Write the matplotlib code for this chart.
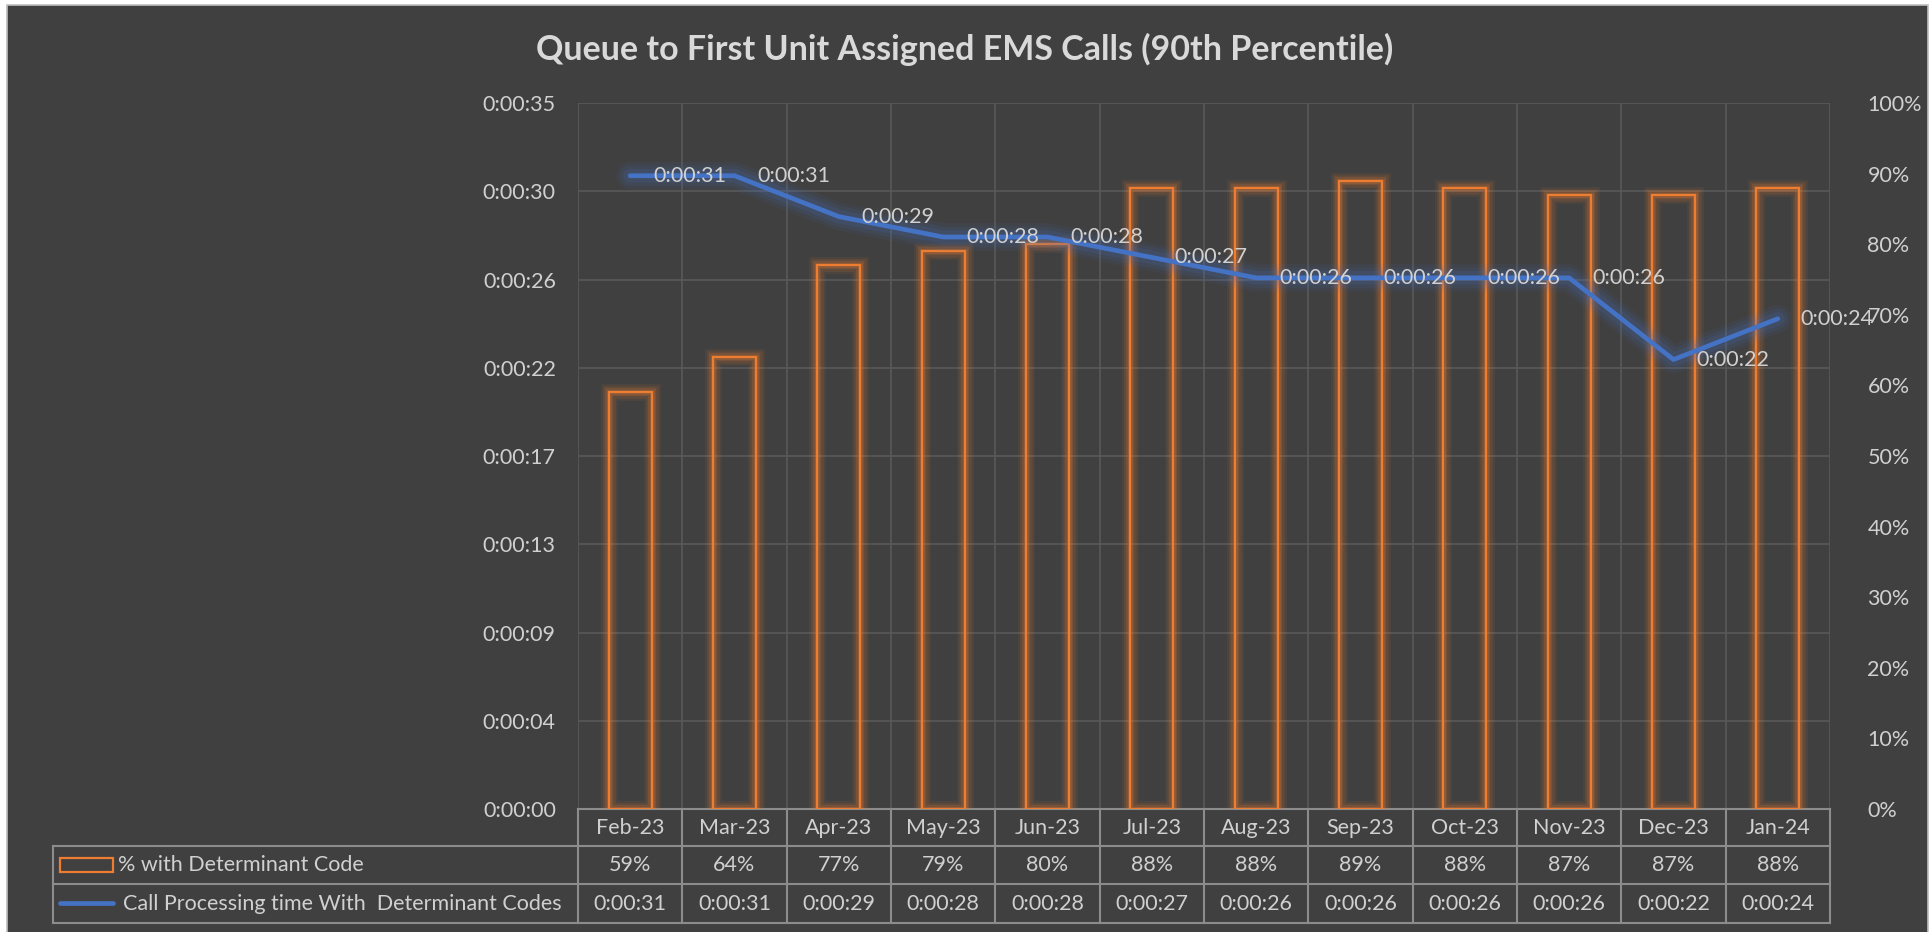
import matplotlib
matplotlib.use('Agg')
import matplotlib.pyplot as plt
import matplotlib.patheffects as pe
import matplotlib.transforms as mtransforms
from matplotlib.patches import Rectangle
from matplotlib.lines import Line2D
import numpy as np

# ---------------- data ----------------
months = ['Feb-23', 'Mar-23', 'Apr-23', 'May-23', 'Jun-23', 'Jul-23',
          'Aug-23', 'Sep-23', 'Oct-23', 'Nov-23', 'Dec-23', 'Jan-24']
pct_with_code = [59, 64, 77, 79, 80, 88, 88, 89, 88, 87, 87, 88]
processing_seconds = [31, 31, 29, 28, 28, 27, 26, 26, 26, 26, 22, 24]
series_names = ['% with Determinant Code',
                'Call Processing time With  Determinant Codes']
title_text = 'Queue to First Unit Assigned EMS Calls (90th Percentile)'
time_axis_max = 34.56          # seconds (0.0004 day)
time_axis_step = 4.32          # seconds
pct_ticks = list(range(0, 101, 10))

# ---------------- style ----------------
FONT = 'Lato'
BG = '#404040'
TXT = '#D0D0D0'
GRID = '#595959'
TBL = '#8C8C8C'
ORANGE = '#ED7D31'
BLUE = '#4472C4'
FS = 15.5

W, H = 1930, 932
fig = plt.figure(figsize=(W / 100, H / 100), dpi=100, facecolor='white')
fig.patches.append(Rectangle((7 / W, -0.01), (1928 - 7) / W, (H - 5) / H + 0.01,
                             transform=fig.transFigure, facecolor=BG,
                             edgecolor='#BFBFBF', lw=1.2, zorder=0))

L, R, T, B = 578, 1830, 103, 809
rect = [L / W, 1 - B / H, (R - L) / W, (B - T) / H]

def fmt_time(s):
    s = int(round(s))
    return '0:{:02d}:{:02d}'.format(s // 60, s % 60)

x = np.arange(len(months))

# base axes: time axis + grid
ax = fig.add_axes(rect)
ax.set_facecolor('none')
ax.set_xlim(-0.5, len(months) - 0.5)
ax.set_ylim(0, time_axis_max)
yt = np.arange(0, 9) * time_axis_step
ax.set_yticks(yt)
ax.set_yticklabels([fmt_time(v) for v in yt], fontfamily=FONT, fontsize=FS, color=TXT)
ax.set_xticks([])
ax.set_xticks(np.arange(-0.5, len(months), 1), minor=True)
ax.tick_params(axis='y', length=0, pad=16)
ax.tick_params(axis='x', which='both', length=0, labelbottom=False)
ax.grid(True, axis='y', which='major', color=GRID, lw=1.2)
ax.grid(True, axis='x', which='minor', color=GRID, lw=1.2)
for sp in ax.spines.values():
    sp.set_visible(False)
ax.set_zorder(1)

# bars on percent axis
ax2 = ax.twinx()
ax2.set_ylim(0, 100)
ax2.set_yticks(pct_ticks)
ax2.set_yticklabels([f'{v}%' for v in pct_ticks], fontfamily=FONT, fontsize=FS, color=TXT)
ax2.tick_params(axis='y', length=0, pad=27)
for sp in ax2.spines.values():
    sp.set_visible(False)
ax2.set_zorder(2)
ax2.patch.set_visible(False)
bar_glow = [pe.Stroke(linewidth=12, foreground=ORANGE, alpha=0.08),
            pe.Stroke(linewidth=9, foreground=ORANGE, alpha=0.12),
            pe.Stroke(linewidth=6, foreground=ORANGE, alpha=0.16),
            pe.Stroke(linewidth=3.5, foreground=ORANGE, alpha=0.2),
            pe.Normal()]
ax2.bar(x, pct_with_code, width=0.41, facecolor='none', edgecolor=ORANGE,
        linewidth=1.6, path_effects=bar_glow)

# line on its own time axis (drawn above bars)
ax3 = ax.twinx()
ax3.set_ylim(0, time_axis_max)
ax3.set_yticks([])
for sp in ax3.spines.values():
    sp.set_visible(False)
ax3.set_zorder(3)
ax3.patch.set_visible(False)
line_glow = [pe.Stroke(linewidth=20, foreground=BLUE, alpha=0.07),
             pe.Stroke(linewidth=15, foreground=BLUE, alpha=0.10),
             pe.Stroke(linewidth=10, foreground=BLUE, alpha=0.14),
             pe.Normal()]
ax3.plot(x, processing_seconds, color=BLUE, lw=3.4, solid_joinstyle='round',
         solid_capstyle='round', path_effects=line_glow)
for xi, yi in zip(x, processing_seconds):
    ax3.annotate(fmt_time(yi), (xi, yi), xytext=(23, 0), textcoords='offset pixels',
                 ha='left', va='center', fontfamily=FONT, fontsize=FS, color=TXT)

# title
fig.text(0.5, 1 - 49 / H, title_text, ha='center', va='center', fontfamily=FONT,
         fontsize=24.5, fontweight='bold', color='#D9D9D9')

# ---------------- data table ----------------
axh = B - T
def ya(py):  # pixel row -> axes fraction
    return (B - py) / axh

tr_cat = mtransforms.blended_transform_factory(ax.transData, ax.transAxes)
tr_fig = mtransforms.blended_transform_factory(fig.transFigure, ax.transAxes)
row_y = [809, 846, 884, 923]
TL = 53
n = len(months)
lw_t = 1.5

# horizontal lines
ax.add_line(Line2D([-0.5, n - 0.5], [ya(row_y[0])] * 2, transform=tr_cat,
                   color=TBL, lw=lw_t, clip_on=False))
for ry in row_y[1:]:
    fig.add_artist(Line2D([TL / W, R / W], [ya(ry)] * 2, transform=tr_fig,
                          color=TBL, lw=lw_t, clip_on=False))
# vertical lines
fig.add_artist(Line2D([TL / W] * 2, [ya(row_y[1]), ya(row_y[3])], transform=tr_fig,
                      color=TBL, lw=lw_t, clip_on=False))
for k in range(n + 1):
    ax.add_line(Line2D([k - 0.5] * 2, [ya(row_y[0]), ya(row_y[3])], transform=tr_cat,
                       color=TBL, lw=lw_t, clip_on=False))

# cell texts
mid = [(row_y[i] + row_y[i + 1]) / 2 for i in range(3)]
for xi, m, p, s in zip(x, months, pct_with_code, processing_seconds):
    ax.text(xi, ya(mid[0]), m, transform=tr_cat, ha='center', va='center',
            fontfamily=FONT, fontsize=FS, color=TXT, clip_on=False)
    ax.text(xi, ya(mid[1]), f'{p}%', transform=tr_cat, ha='center', va='center',
            fontfamily=FONT, fontsize=FS, color=TXT, clip_on=False)
    ax.text(xi, ya(mid[2]), fmt_time(s), transform=tr_cat, ha='center', va='center',
            fontfamily=FONT, fontsize=FS, color=TXT, clip_on=False)

# legend keys + series names
fig.add_artist(Rectangle((60 / W, ya(872)), 53 / W, ya(858) - ya(872), transform=tr_fig,
                         facecolor='none', edgecolor=ORANGE, lw=1.6, clip_on=False))
fig.add_artist(Line2D([60 / W, 113 / W], [ya(903)] * 2, transform=tr_fig,
                      color=BLUE, lw=3.4, solid_capstyle='round', clip_on=False))
fig.text(118 / W, ya(mid[1]), series_names[0], transform=tr_fig, ha='left', va='center',
         fontfamily=FONT, fontsize=FS, color=TXT)
fig.text(123 / W, ya(mid[2]), series_names[1], transform=tr_fig, ha='left', va='center',
         fontfamily=FONT, fontsize=FS, color=TXT)

fig.savefig('out.png', dpi=100, facecolor=fig.get_facecolor())
